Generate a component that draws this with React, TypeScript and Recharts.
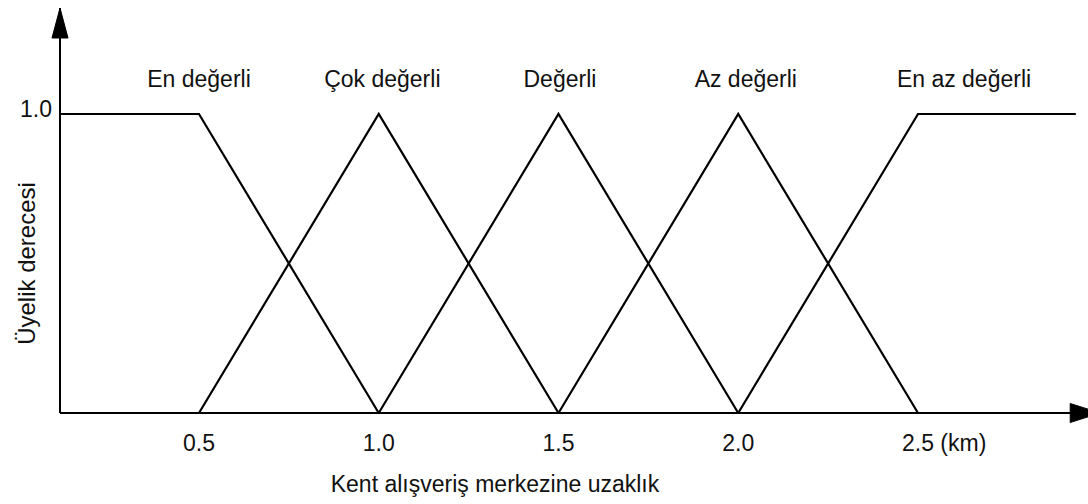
import React from "react";
import { LineChart, Line, XAxis, YAxis, Scatter, Label, ReferenceDot } from "recharts";

// Membership functions for distance to the city shopping centre (km)
const X_MIN = 0.1134;
const X_MAX = 2.9729;
const Y_MAX = 1.3545;

const xTicks = [0.5, 1.0, 1.5, 2.0, 2.5];
const yTicks = [1.0];

const enDegerli = [
  { x: X_MIN, y: 1 },
  { x: 0.5, y: 1 },
  { x: 1.0, y: 0 },
];
const cokDegerli = [
  { x: 0.5, y: 0 },
  { x: 1.0, y: 1 },
  { x: 1.5, y: 0 },
];
const degerli = [
  { x: 1.0, y: 0 },
  { x: 1.5, y: 1 },
  { x: 2.0, y: 0 },
];
const azDegerli = [
  { x: 1.5, y: 0 },
  { x: 2.0, y: 1 },
  { x: 2.5, y: 0 },
];
const enAzDegerli = [
  { x: 2.0, y: 0 },
  { x: 2.5, y: 1 },
  { x: 2.939, y: 1 },
];

const seriesList = [enDegerli, cokDegerli, degerli, azDegerli, enAzDegerli];

// Set names shown above each membership function
const setLabels = [
  { x: 0.5, y: 1.09, name: "En değerli" },
  { x: 1.01, y: 1.09, name: "Çok değerli" },
  { x: 1.504, y: 1.09, name: "Değerli" },
  { x: 2.021, y: 1.09, name: "Az değerli" },
  { x: 2.628, y: 1.09, name: "En az değerli" },
];

// Arrowhead bases for the two axes
const xArrowBase = { x: 2.9234, y: 0 };
const yArrowBase = { x: X_MIN, y: 1.2542 };

const FONT = "'Liberation Sans', Arial, Helvetica, sans-serif";
const INK = "#111";

const XTick = (props: any) => {
  const { x, y, payload } = props;
  const v: number = payload.value;
  const txt = v.toFixed(1);
  if (v === 2.5) {
    return (
      <text x={x - 16} y={y + 38} textAnchor="start" fontFamily={FONT} fontSize={23} fill={INK}>
        {txt + " (km)"}
      </text>
    );
  }
  return (
    <text x={x} y={y + 38} textAnchor="middle" fontFamily={FONT} fontSize={23} fill={INK}>
      {txt}
    </text>
  );
};

const YTick = (props: any) => {
  const { x, y, payload } = props;
  return (
    <text x={x - 8} y={y + 3} textAnchor="end" fontFamily={FONT} fontSize={23} fill={INK}>
      {(payload.value as number).toFixed(1)}
    </text>
  );
};

const XTitle = (props: any) => {
  const vb = props.viewBox || { x: 60, y: 413 };
  return (
    <text x={vb.x + 435} y={vb.y + 79} textAnchor="middle" fontFamily={FONT} fontSize={23} fill={INK}>
      Kent alışveriş merkezine uzaklık
    </text>
  );
};

const YTitle = (props: any) => {
  const vb = props.viewBox || { x: 0, y: 8 };
  const cx = vb.x + 35;
  const cy = vb.y + 255.5;
  return (
    <text
      x={cx}
      y={cy}
      textAnchor="middle"
      transform={`rotate(-90, ${cx}, ${cy})`}
      fontFamily={FONT}
      fontSize={24}
      fill={INK}
    >
      Üyelik derecesi
    </text>
  );
};

const SetLabel = (props: any) => {
  const { cx, cy, payload } = props;
  return (
    <text x={cx} y={cy} textAnchor="middle" fontFamily={FONT} fontSize={23} fill={INK}>
      {payload.name}
    </text>
  );
};

const RightArrow = (props: any) => {
  const { cx, cy } = props;
  return (
    <polygon
      points={`${cx},${cy - 9.5} ${cx + 30},${cy} ${cx},${cy + 9.5}`}
      fill="#000"
      stroke="#000"
      strokeWidth={1}
    />
  );
};

const UpArrow = (props: any) => {
  const { cx, cy } = props;
  return (
    <polygon
      points={`${cx - 8},${cy} ${cx},${cy - 30} ${cx + 8},${cy}`}
      fill="#000"
      stroke="#000"
      strokeWidth={1}
    />
  );
};

export default function App() {
  return (
    <div style={{ position: "absolute", left: 0, top: 0, background: "#fff" }}>
      <LineChart
        width={1088}
        height={504}
        margin={{ top: 8, right: 0, bottom: 0, left: 0 }}
        style={{ background: "#fff" }}
      >
        <XAxis
          type="number"
          dataKey="x"
          domain={[X_MIN, X_MAX]}
          ticks={xTicks}
          tick={<XTick />}
          tickLine={false}
          tickSize={0}
          tickMargin={0}
          height={91}
          axisLine={{ stroke: "#000", strokeWidth: 2 }}
        >
          <Label content={<XTitle />} />
        </XAxis>
        <YAxis
          type="number"
          dataKey="y"
          domain={[0, Y_MAX]}
          ticks={yTicks}
          tick={<YTick />}
          tickLine={false}
          tickSize={0}
          tickMargin={0}
          width={60}
          axisLine={{ stroke: "#000", strokeWidth: 2 }}
        >
          <Label content={<YTitle />} />
        </YAxis>
        {seriesList.map((d, i) => (
          <Line
            key={i}
            data={d}
            dataKey="y"
            type="linear"
            stroke="#000"
            strokeWidth={2.2}
            dot={false}
            activeDot={false}
            isAnimationActive={false}
          />
        ))}
        <Scatter data={setLabels} dataKey="y" shape={<SetLabel />} isAnimationActive={false} />
        <ReferenceDot
          x={xArrowBase.x}
          y={xArrowBase.y}
          ifOverflow="visible"
          shape={<RightArrow />}
        />
        <ReferenceDot
          x={yArrowBase.x}
          y={yArrowBase.y}
          ifOverflow="visible"
          shape={<UpArrow />}
        />
      </LineChart>
    </div>
  );
}
